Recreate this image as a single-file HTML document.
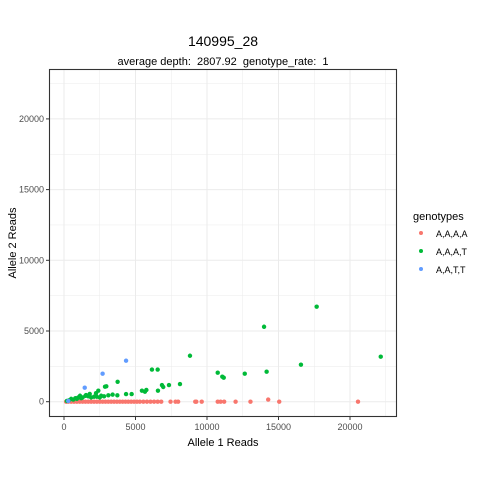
<!DOCTYPE html>
<html><head><meta charset="utf-8"><style>
body{margin:0;background:#fff;font-family:"Liberation Sans",Arial,sans-serif}
svg text{font-family:"Liberation Sans",Arial,sans-serif}
</style></head><body>
<svg id="chart" width="480" height="480" xmlns="http://www.w3.org/2000/svg">
<rect width="480" height="480" fill="#fff"/>
<text x="223" y="46" text-anchor="middle" font-size="14" fill="#000">140995_28</text>
<text x="223" y="65" text-anchor="middle" font-size="11" fill="#000" style="white-space:pre" xml:space="preserve">average depth:  2807.92  genotype_rate:  1</text>
<g id="grid"></g>
<g id="pts"></g>
<rect x="49.5" y="69.5" width="347" height="347" fill="none" stroke="#333" stroke-width="1.1"/>
<g id="axes"></g>
<text x="223" y="446" text-anchor="middle" font-size="11">Allele 1 Reads</text>
<text transform="translate(16,243) rotate(-90)" text-anchor="middle" font-size="11">Allele 2 Reads</text>
<g>
<text x="413" y="220" font-size="11">genotypes</text>
<circle cx="421" cy="233" r="2" fill="#F8766D"/>
<text x="436" y="237" font-size="9">A,A,A,A</text>
<circle cx="421" cy="251" r="2" fill="#00BA38"/>
<text x="436" y="255" font-size="9">A,A,A,T</text>
<circle cx="421" cy="269" r="2" fill="#619CFF"/>
<text x="436" y="273" font-size="9">A,A,T,T</text>
</g>
</svg>
<script>
const xTicks=[0,5000,10000,15000,20000];
const yTicks=[0,5000,10000,15000,20000];
const redX=[20560,15050,14280,13040,12000,11200,10950,10750,9630,9250,9180,7980,7800,7450,6800,6550,6300,6050,5800,5550,5300,5100,4900,4700,4500,4300,4100,3900,3700,3500,3300,3100,2900,2700,2500,2300,2100,1900,1700,1500,1300,1100,900,700,500,300,150];
const redY=[0,0,150,0,0,0,0,0,0,0,0,0,0,0,0,0,0,0,0,0,0,0,0,0,0,0,0,0,0,0,0,0,0,0,0,0,0,0,0,0,0,0,0,0,0,0,0];
const greenX=[17670,13990,8810,22150,16570,14170,12640,10750,11070,11170,6150,6550,3750,2870,2960,8110,7340,6940,6850,6570,5760,5660,5450,4730,4340,3730,2400,2240,1540,1120,3400,3100,2800,2600,2300,2100,1900,1700,1500,1300,1200,1000,900,800,650,500,350,200,1800,2500];
const greenY=[6720,5300,3250,3180,2620,2120,1980,2050,1770,1700,2270,2270,1410,1060,1090,1250,1180,1040,1180,780,830,710,780,540,540,450,780,600,470,420,500,450,380,420,350,350,300,380,420,300,250,300,200,250,150,200,100,50,550,300];
const blueX=[4340,2700,1450,300];
const blueY=[2900,1980,990,50];
const sx=v=>64+v*0.0143;
const sy=v=>401.7-v*0.01414;
const NS="http://www.w3.org/2000/svg";
const grid=document.getElementById('grid'),axes=document.getElementById('axes'),pts=document.getElementById('pts');
function mk(tag,at,par){const e=document.createElementNS(NS,tag);for(const k in at)e.setAttribute(k,at[k]);par.appendChild(e);return e;}
[-2500,2500,7500,12500,17500,22500].forEach(v=>{const x=sx(v);if(x>50&&x<396){const l=mk('line',{x1:x,x2:x,y1:70,y2:416,stroke:'#ebebeb','stroke-width':0.5},grid);

}});
[2500,7500,12500,17500,22500].forEach(v=>{const y=sy(v);if(y>70){const l=mk('line',{x1:50,x2:396,y1:y,y2:y,stroke:'#ebebeb','stroke-width':0.5},grid);

}});
xTicks.forEach(v=>{const x=sx(v);
const g=mk('line',{x1:x,x2:x,y1:70,y2:416,stroke:'#ebebeb','stroke-width':1},grid);


const t=mk('line',{x1:x,x2:x,y1:417,y2:420,stroke:'#333'},axes);


const tx=mk('text',{x:x,y:430,'text-anchor':'middle','font-size':9,fill:'#4d4d4d'},axes);tx.textContent=v;

});
yTicks.forEach(v=>{const y=sy(v);
const g=mk('line',{x1:50,x2:396,y1:y,y2:y,stroke:'#ebebeb','stroke-width':1},grid);


const t=mk('line',{x1:46,x2:49,y1:y,y2:y,stroke:'#333'},axes);


const tx=mk('text',{x:44,y:y+3,'text-anchor':'end','font-size':9,fill:'#4d4d4d'},axes);tx.textContent=v;

});
function series(X,Y,col,name){X.forEach((v,i)=>{const c=mk('circle',{cx:sx(v),cy:sy(Y[i]),r:2.2,fill:col},pts);

});}
series(redX,redY,'#F8766D','point-aaaa');
series(greenX,greenY,'#00BA38','point-aaat');
series(blueX,blueY,'#619CFF','point-aatt');
</script>
</body></html>
